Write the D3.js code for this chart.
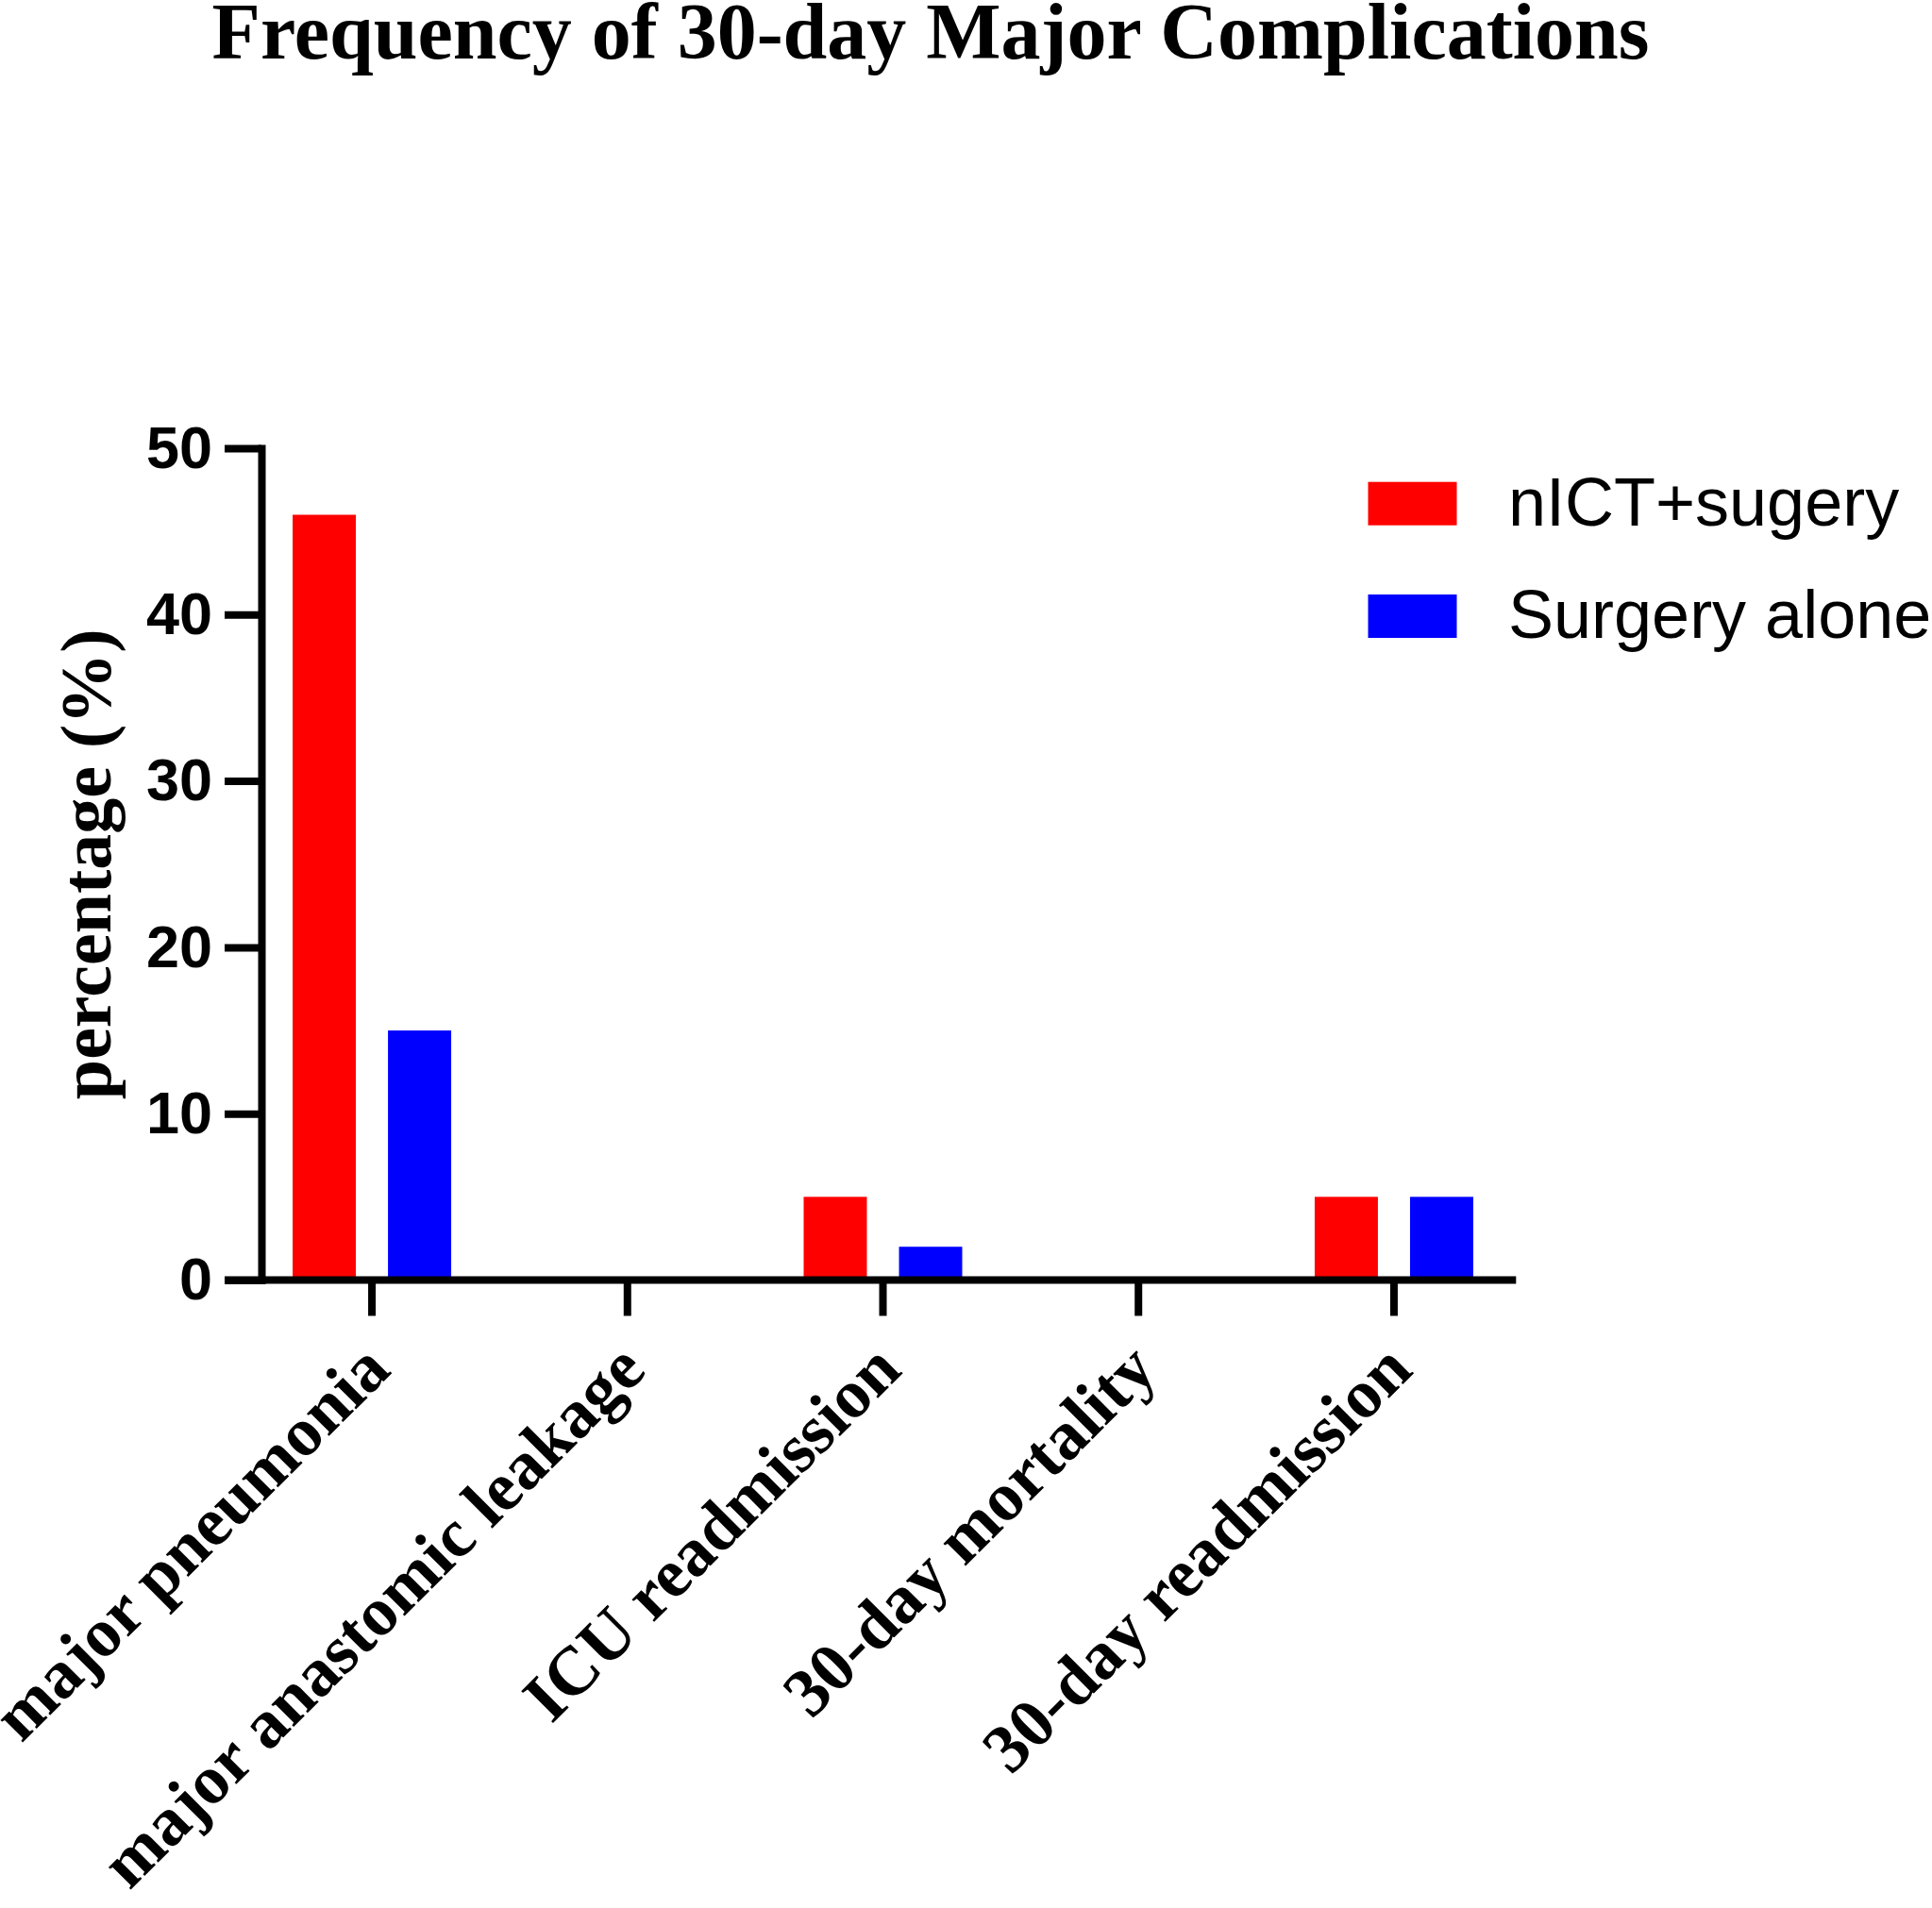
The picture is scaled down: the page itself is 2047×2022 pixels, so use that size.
<!DOCTYPE html>
<html>
<head>
<meta charset="utf-8">
<script src="https://cdn.jsdelivr.net/npm/d3@7"></script>
<style>
  body { margin: 0; background: #fff; }
</style>
</head>
<body>
<div id="chart"></div>
<script>
// data
const categories = ["major pneumonia", "major anastomic leakage", "ICU readmission", "30-day mortality", "30-day readmission"];
const seriesNames = ["nICT+sugery", "Surgery alone"];
const nictValues = [46, 0, 5, 0, 5];
const surgeryValues = [15, 0, 2, 0, 5];
const yTicks = [0, 10, 20, 30, 40, 50];
const colors = ["#ff0000", "#0000ff"];

const width = 2047, height = 2022;
const serif = "'Liberation Serif', 'Times New Roman', serif";
const sans = "'Liberation Sans', Arial, sans-serif";

let svg = d3.select("#chart")
    .append("svg")
    .attr("width", width)
    .attr("height", height)
    .style("background", "#fff");

// scales
let x = d3.scaleBand()
    .domain(categories)
    .range([258.7, 1612.3])
    .padding(0);

let xSub = d3.scaleBand()
    .domain(seriesNames)
    .range([x.bandwidth() / 2 - 84, x.bandwidth() / 2 + 84])
    .paddingInner(0.337);

let y = d3.scaleLinear()
    .domain([0, 50])
    .range([1356.5, 475]);

const axisX = 277;   // where the y axis sits

// bars, drawn first so the axis line covers their base
let rows = categories.map((c, i) => ({cat: c, vals: [nictValues[i], surgeryValues[i]]}));

let groups = svg.selectAll("g.grp")
    .data(rows)
    .enter()
    .append("g")
    .attr("class", "grp")
    .attr("transform", d => "translate(" + x(d.cat) + ",0)");

groups.selectAll("rect")
    .data(d => d.vals.map((v, k) => ({name: seriesNames[k], v: v, k: k})))
    .enter()
    .append("rect")
    .filter(d => d.v > 0)
    .attr("x", d => xSub(d.name))
    .attr("width", xSub.bandwidth())
    .attr("y", d => y(d.v))
    .attr("height", d => y(0) - y(d.v))
    .attr("fill", d => colors[d.k]);

// y axis
let yAxis = svg.append("g")
    .attr("transform", "translate(" + axisX + ",0)")
    .call(d3.axisLeft(y).tickValues(yTicks).tickSize(39).tickSizeOuter(0).tickPadding(13));

yAxis.select(".domain")
    .attr("stroke", "#000")
    .attr("stroke-width", 8)
    .attr("stroke-linecap", "square");
yAxis.selectAll(".tick line")
    .attr("stroke", "#000")
    .attr("stroke-width", 8);
yAxis.selectAll(".tick text")
    .style("font-family", sans)
    .style("font-weight", "bold")
    .style("font-size", "63px")
    .attr("fill", "#000");

// x axis
let xAxis = svg.append("g")
    .attr("transform", "translate(0," + y(0) + ")")
    .call(d3.axisBottom(x).tickSize(38).tickSizeOuter(0));

xAxis.select(".domain")
    .attr("d", "M" + (axisX - 39) + ",0H" + (x.range()[1] - 6))
    .attr("stroke", "#000")
    .attr("stroke-width", 8);
xAxis.selectAll(".tick line")
    .attr("stroke", "#000")
    .attr("stroke-width", 8);
xAxis.selectAll(".tick text")
    .attr("x", 0)
    .attr("y", 0)
    .attr("dy", 0)
    .attr("transform", "translate(22,98) rotate(-45)")
    .style("text-anchor", "end")
    .style("font-family", serif)
    .style("font-weight", "bold")
    .style("font-size", "73px")
    .attr("fill", "#000");

// y axis title
svg.append("text")
    .attr("transform", "translate(117," + ((y(0) + y(50)) / 2) + ") rotate(-90)")
    .attr("text-anchor", "middle")
    .style("font-family", serif)
    .style("font-weight", "bold")
    .style("font-size", "76px")
    .text("percentage (%)");

// chart title
svg.append("text")
    .attr("x", 986)
    .attr("y", 62)
    .attr("text-anchor", "middle")
    .style("font-family", serif)
    .style("font-weight", "bold")
    .style("font-size", "84px")
    .text("Frequency of 30-day Major Complications");

// legend
let legend = svg.selectAll("g.legend")
    .data(seriesNames)
    .enter()
    .append("g")
    .attr("class", "legend")
    .attr("transform", (d, i) => "translate(1449.5," + (510.7 + i * 119.3) + ")");

legend.append("rect")
    .attr("width", 94)
    .attr("height", 46)
    .attr("fill", (d, i) => colors[i]);

legend.append("text")
    .attr("x", 148.5)
    .attr("y", 46)
    .style("font-family", sans)
    .style("font-size", "72px")
    .attr("fill", "#000")
    .text(d => d);
</script>
</body>
</html>
